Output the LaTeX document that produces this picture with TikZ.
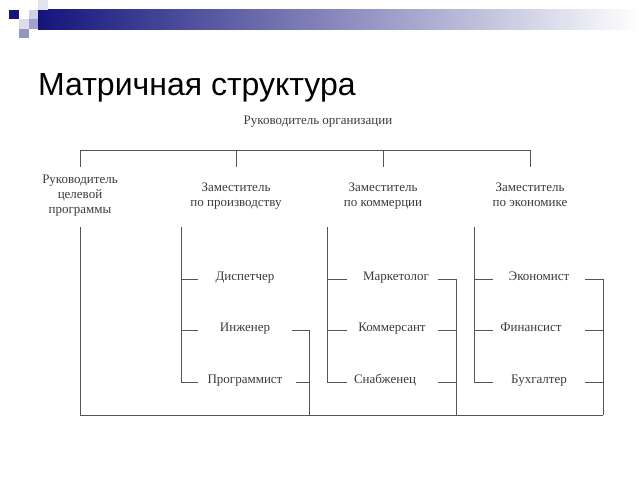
\documentclass[tikz,border=0pt]{standalone}
\usepackage{fontspec}
\setmainfont{Liberation Serif}
\newfontfamily\titlefont{Liberation Sans}
\definecolor{navy}{HTML}{14147C}
\definecolor{inkgray}{HTML}{3A3A3A}
\definecolor{wiregray}{HTML}{555555}

\begin{document}
\begin{tikzpicture}[x=1pt,y=-1pt]
    \tikzstyle{wire}=[line width=0.9pt,draw=wiregray]
    \tikzstyle{post}=[font=\fontsize{13}{14.8}\selectfont,text=inkgray,align=center,inner sep=0pt]
    \tikzstyle{deputy}=[post,anchor=north]
    \tikzstyle{staff}=[post,anchor=base]
    \tikzstyle{tile}=[draw=none]

    \useasboundingbox (0,0) rectangle (640,480);

    % header strip
    \shade[left color=navy,right color=white] (38,9) rectangle (640,29);
    \fill[tile,navy] (9,10) rectangle (19,19);
    \fill[tile,fill=navy!20] (29,10) rectangle (38,19);
    \fill[tile,fill=navy!12] (38,0) rectangle (48,10);
    \fill[tile,fill=navy!15] (19,19) rectangle (29,29);
    \fill[tile,fill=navy!40] (29,19) rectangle (38,29);
    \fill[tile,fill=navy!45] (19,29) rectangle (29,38);

    % title
    \node[anchor=base west,inner sep=0pt,font=\titlefont\fontsize{32}{34}\selectfont] (title) at (38,95) {Матричная структура};

    % head and deputies
    \node[staff] (head) at (318,124) {Руководитель организации};
    \node[deputy] (prog) at (80,175) {Руководитель\\целевой\\программы};
    \node[deputy] (dprod) at (236,183) {Заместитель\\по производству};
    \node[deputy] (dcomm) at (383,183) {Заместитель\\по коммерции};
    \node[deputy] (decon) at (530,183) {Заместитель\\по экономике};

    % staff
    \node[staff] (disp) at (245,280) {Диспетчер};
    \node[staff] (eng) at (245,331) {Инженер};
    \node[staff] (coder) at (245,383) {Программист};
    \node[staff] (mark) at (396,280) {Маркетолог};
    \node[staff] (merch) at (392,331) {Коммерсант};
    \node[staff] (supp) at (385,383) {Снабженец};
    \node[staff] (econ) at (539,280) {Экономист};
    \node[staff] (fin) at (531,331) {Финансист};
    \node[staff] (acc) at (539,383) {Бухгалтер};

    % top bar
    \coordinate (t1) at (80,150);
    \coordinate (t2) at (236,150);
    \coordinate (t3) at (383,150);
    \coordinate (t4) at (530,150);
    \coordinate (d1) at (80,167);
    \coordinate (d2) at (236,167);
    \coordinate (d3) at (383,167);
    \coordinate (d4) at (530,167);
    \draw[wire] (t1) -- (t4);
    \draw[wire] (t1) -- (d1);
    \draw[wire] (t2) -- (d2);
    \draw[wire] (t3) -- (d3);
    \draw[wire] (t4) -- (d4);

    % programme line
    \coordinate (p1) at (80,227);
    \coordinate (p2) at (80,415);
    \coordinate (p3) at (603,415);
    \draw[wire] (p1) -- (p2) -- (p3);

    % left spines
    \foreach \x/\e in {181/198,327/347,474/493}{
        \draw[wire] (\x,227) -- (\x,382);
        \foreach \y in {279,330,382}
            \draw[wire] (\x,\y) -- (\e,\y);
    }

    % right brackets
    \coordinate (r1) at (309,330);
    \coordinate (r2) at (309,415);
    \draw[wire] (292,330) -- (r1) -- (r2);
    \draw[wire] (296,382) -- (309,382);
    \foreach \x/\s in {456/438,603/585}{
        \draw[wire] (\x,279) -- (\x,415);
        \foreach \y in {279,330,382}
            \draw[wire] (\s,\y) -- (\x,\y);
    }
\end{tikzpicture}
\end{document}
